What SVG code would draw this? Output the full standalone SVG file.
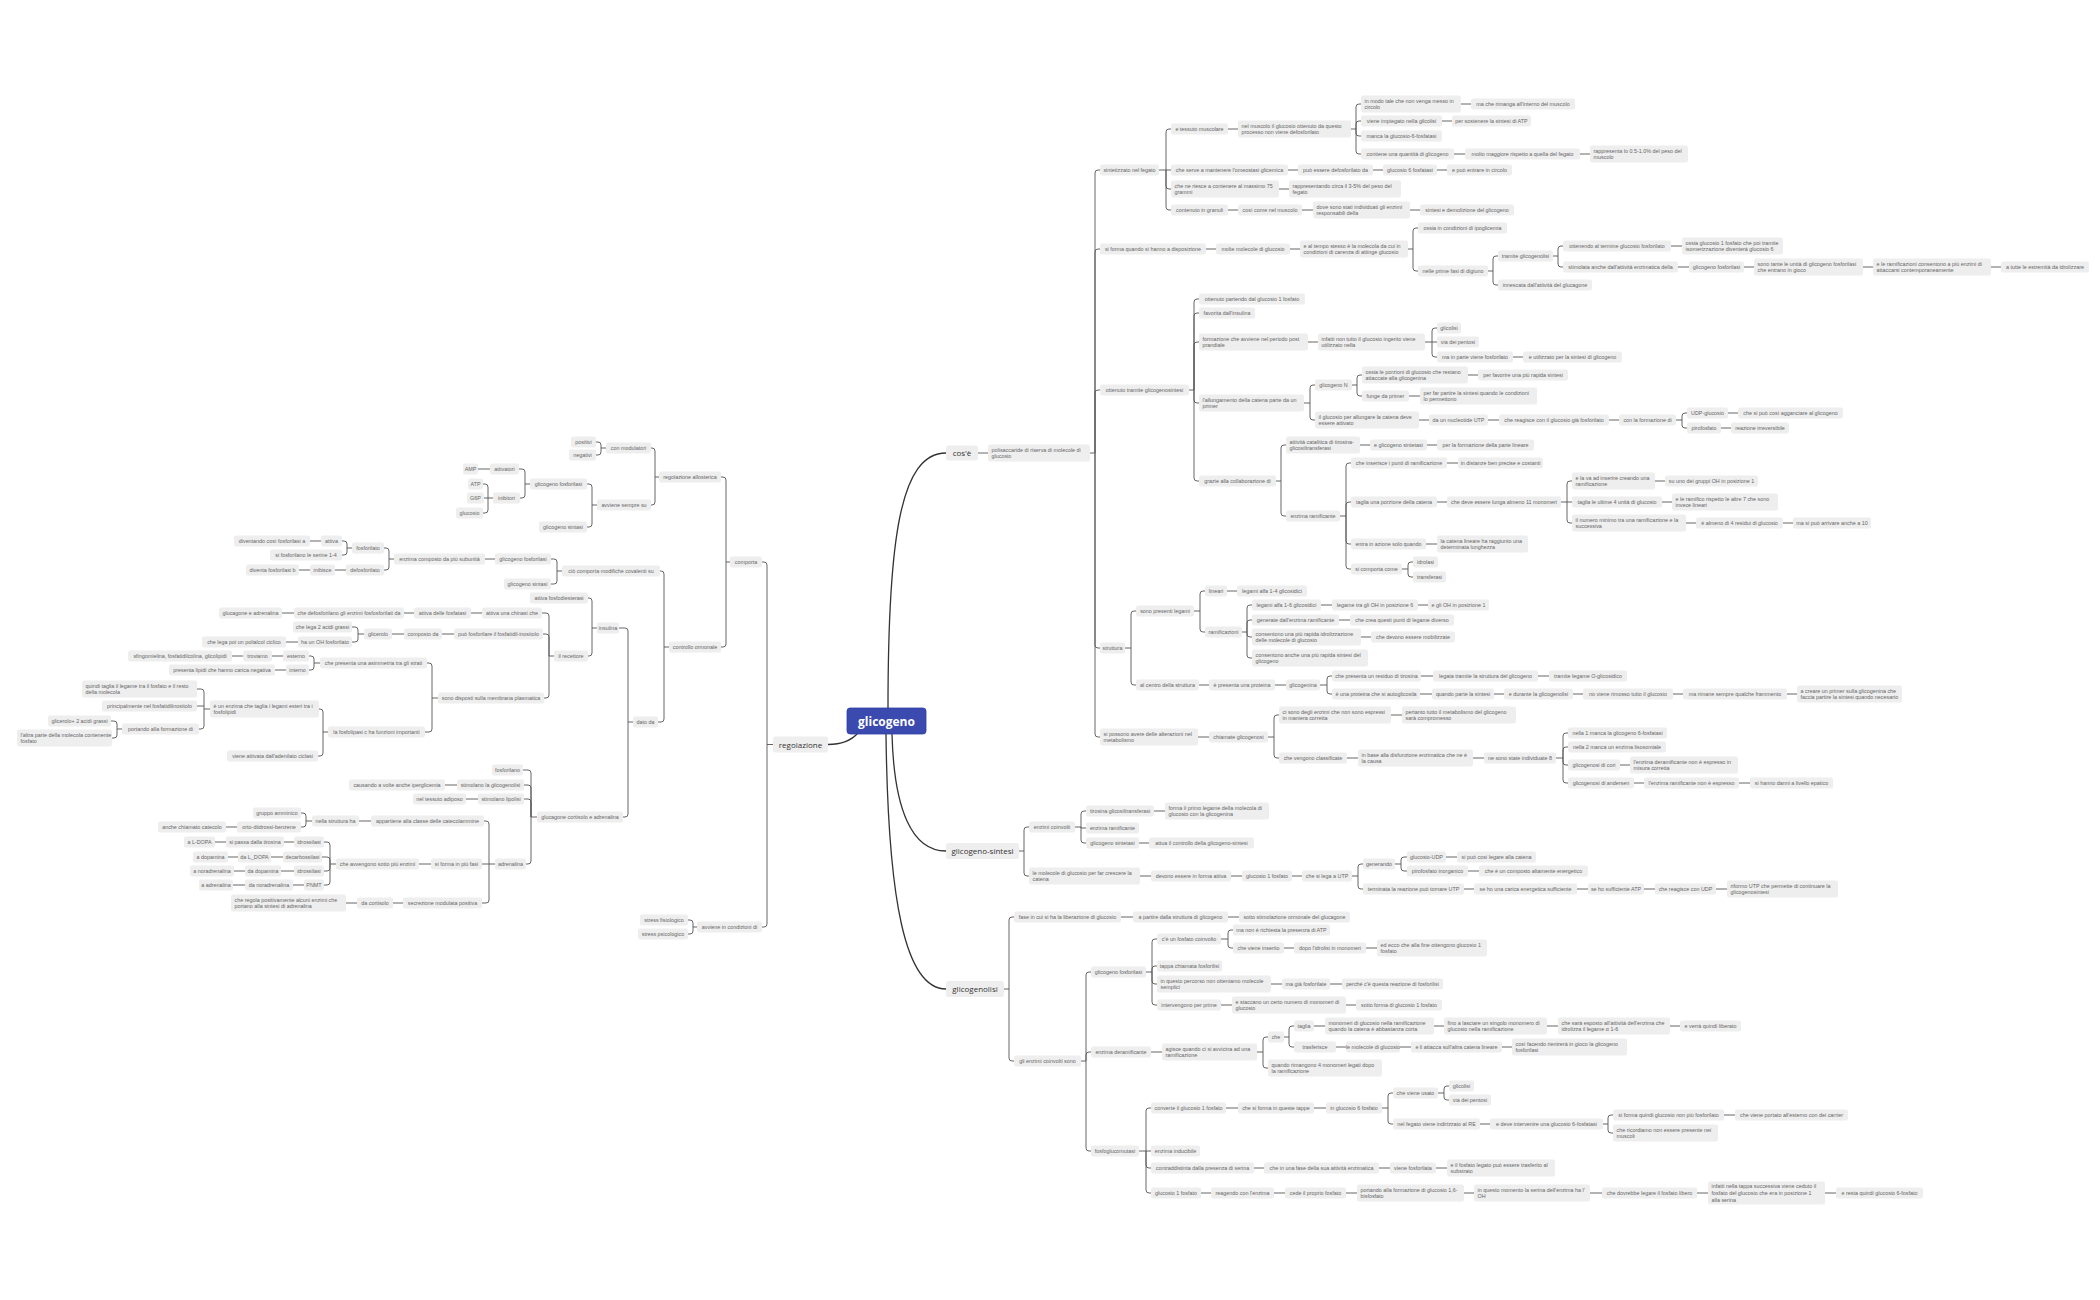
<svg xmlns="http://www.w3.org/2000/svg" width="2100" height="1300" viewBox="0 0 2100 1300">
<style>
.n rect{fill:#eeeeee;rx:2px}
.n text{font-family:"Liberation Sans",Arial,sans-serif;font-size:5.4px;fill:#666;text-anchor:middle}
.n text.l{text-anchor:start}
.m rect{fill:#eeeeee;rx:2.5px}
.m text{font-family:"Open Sans","Liberation Sans",sans-serif;font-size:8px;fill:#333;text-anchor:middle}
.c path{fill:none;stroke:#555;stroke-width:0.9}
.c path.t{stroke:#333;stroke-width:1.3}
</style>
<rect width="2100" height="1300" fill="#ffffff"/>
<g class="c" id="connectors">
<path class="t" d="M888 708C888 540 900 453 946 453"/>
<path class="t" d="M892 734C894 810 912 851 946 851"/>
<path class="t" d="M886 734C888 900 905 989 946 989"/>
<path class="t" d="M858 733C850 742 840 744.5 828 744.5"/>
<path d="M978 453H988"/>
<path d="M1090 453H1095M1095 453V173Q1095 170 1098 170H1100M1095 453V252Q1095 249 1098 249H1100M1095 453V393Q1095 390 1098 390H1100M1095 453V645Q1095 648 1098 648H1100M1095 453V734Q1095 737 1098 737H1100"/>
<path d="M1159 170H1166M1166 170V132Q1166 129 1169 129H1171M1166 170H1171M1166 170V186Q1166 189 1169 189H1171M1166 170V207Q1166 210 1169 210H1171"/>
<path d="M1228 129H1238M1351 129H1356M1356 129V107Q1356 104 1359 104H1361M1356 129V124Q1356 121 1359 121H1361M1356 129V133Q1356 136 1359 136H1361M1356 129V151Q1356 154 1359 154H1361"/>
<path d="M1461 104H1471M1442 121H1452M1454 154H1465M1580 154H1590M1288 170H1298M1373 170H1383M1437 170H1447M1279 189H1289M1228 210H1238M1302 210H1313M1410 210H1420"/>
<path d="M1206 249H1216M1290 249H1300M1408 249H1413M1413 249V231Q1413 228 1416 228H1418M1413 249V268Q1413 271 1416 271H1418"/>
<path d="M1488 271H1493M1493 271V259Q1493 256 1496 256H1498M1493 271V282Q1493 285 1496 285H1498M1553 256H1558M1558 256V249Q1558 246 1561 246H1563M1558 256V264Q1558 267 1561 267H1563"/>
<path d="M1671 246H1682M1678 267H1689M1744 267H1754M1863 267H1873M1991 267H2001"/>
<path d="M1189 390H1194M1194 390V302Q1194 299 1197 299H1199M1194 390V316Q1194 313 1197 313H1199M1194 390V345Q1194 342 1197 342H1199M1194 390V400Q1194 403 1197 403H1199M1194 390V478Q1194 481 1197 481H1199"/>
<path d="M1308 342H1318M1425 342H1432M1432 342V331Q1432 328 1435 328H1437M1432 342H1437M1432 342V354Q1432 357 1435 357H1437M1513 357H1523"/>
<path d="M1304 403H1310M1310 403V388Q1310 385 1313 385H1315M1310 403V417Q1310 420 1313 420H1315M1352 385H1357M1357 385V378Q1357 375 1360 375H1362M1357 385V393Q1357 396 1360 396H1362"/>
<path d="M1468 375H1478M1409 396H1420M1419 420H1429M1488 420H1499M1609 420H1619M1676 420H1682M1682 420V416Q1682 413 1685 413H1687M1682 420V425Q1682 428 1685 428H1687M1728 413H1738M1721 428H1731"/>
<path d="M1276 481H1281M1281 481V448Q1281 445 1284 445H1286M1281 481V513Q1281 516 1284 516H1286M1360 445H1370M1427 445H1437"/>
<path d="M1340 516H1346M1346 516V466Q1346 463 1349 463H1351M1346 516V505Q1346 502 1349 502H1351M1346 516V541Q1346 544 1349 544H1351M1346 516V566Q1346 569 1349 569H1351"/>
<path d="M1447 463H1458M1437 502H1447M1561 502H1567M1567 502V484Q1567 481 1570 481H1572M1567 502H1572M1567 502V520Q1567 523 1570 523H1572M1655 481H1665M1662 502H1672M1686 523H1696M1783 523H1793M1426 544H1437"/>
<path d="M1402 569H1408M1408 569V565Q1408 562 1411 562H1413M1408 569V574Q1408 577 1411 577H1413"/>
<path d="M1125 648H1131M1131 648V614Q1131 611 1134 611H1136M1131 648V682Q1131 685 1134 685H1136M1194 611H1200M1200 611V594Q1200 591 1203 591H1205M1200 611V629Q1200 632 1203 632H1205M1227 591H1237"/>
<path d="M1242 632H1247M1247 632V608Q1247 605 1250 605H1252M1247 632V623Q1247 620 1250 620H1252M1247 632V634Q1247 637 1250 637H1252M1247 632V655Q1247 658 1250 658H1252"/>
<path d="M1321 605H1332M1418 605H1428M1339 620H1350M1361 637H1371M1199 685H1209M1275 685H1286M1320 685H1327M1327 685V679Q1327 676 1330 676H1332M1327 685V691Q1327 694 1330 694H1332"/>
<path d="M1421 676H1433M1538 676H1549M1420 694H1432M1494 694H1504M1573 694H1583M1673 694H1683M1787 694H1797"/>
<path d="M1198 737H1209M1268 737H1274M1274 737V718Q1274 715 1277 715H1279M1274 737V755Q1274 758 1277 758H1279M1391 715H1402M1347 758H1358M1473 758H1484"/>
<path d="M1556 758H1563M1563 758V736Q1563 733 1566 733H1568M1563 758V750Q1563 747 1566 747H1568M1563 758V762Q1563 765 1566 765H1568M1563 758V780Q1563 783 1566 783H1568M1620 765H1630M1634 783H1644M1739 783H1750"/>
<path d="M1019 851H1024M1024 851V830Q1024 827 1027 827H1029M1024 851V873Q1024 876 1027 876H1029M1075 827H1081M1081 827V814Q1081 811 1084 811H1086M1081 827V828H1086M1081 827V840Q1081 843 1084 843H1086M1154 811H1165M1139 843H1149"/>
<path d="M1140 876H1151M1231 876H1242M1292 876H1302M1352 876H1358M1358 876V867Q1358 864 1361 864H1363M1358 876V886Q1358 889 1361 889H1363M1395 864H1401M1401 864V860Q1401 857 1404 857H1407M1401 864V868Q1401 871 1404 871H1407"/>
<path d="M1446 857H1457M1468 871H1479M1464 889H1474M1577 889H1588M1644 889H1655M1716 889H1727"/>
<path d="M1004 989H1009M1009 989V920Q1009 917 1012 917H1014M1009 989V1058Q1009 1061 1012 1061H1014M1121 917H1133M1228 917H1239"/>
<path d="M1081 1061H1086M1086 1061V975Q1086 972 1089 972H1091M1086 1061V1055Q1086 1052 1089 1052H1091M1086 1061V1148Q1086 1151 1089 1151H1091"/>
<path d="M1146 972H1152M1152 972V942Q1152 939 1155 939H1157M1152 972V969Q1152 966 1155 966H1157M1152 972V981Q1152 984 1155 984H1157M1152 972V1002Q1152 1005 1155 1005H1157"/>
<path d="M1221 939H1228M1228 939V933Q1228 930 1231 930H1233M1228 939V945Q1228 948 1231 948H1233M1284 948H1294M1366 948H1377M1271 984H1282M1330 984H1342M1221 1005H1232M1346 1005H1356M1151 1052H1162"/>
<path d="M1257 1052H1263M1263 1052V1040Q1263 1037 1266 1037H1268M1263 1052V1065Q1263 1068 1266 1068H1268M1284 1037H1289M1289 1037V1029Q1289 1026 1292 1026H1294M1289 1037V1044Q1289 1047 1292 1047H1294"/>
<path d="M1314 1026H1325M1434 1026H1444M1547 1026H1558M1670 1026H1680M1336 1047H1346M1400 1047H1411M1502 1047H1512"/>
<path d="M1139 1151H1146M1146 1151V1111Q1146 1108 1149 1108H1151M1146 1151H1151M1146 1151V1165Q1146 1168 1149 1168H1151M1146 1151V1190Q1146 1193 1149 1193H1151"/>
<path d="M1226 1108H1238M1314 1108H1326M1382 1108H1388M1388 1108V1096Q1388 1093 1391 1093H1393M1388 1108V1121Q1388 1124 1391 1124H1393M1438 1093H1444M1444 1093V1089Q1444 1086 1447 1086H1449M1444 1093V1097Q1444 1100 1447 1100H1449"/>
<path d="M1480 1124H1490M1603 1124H1608M1608 1124V1118Q1608 1115 1611 1115H1613M1608 1124V1130Q1608 1133 1611 1133H1613M1724 1115H1735"/>
<path d="M1254 1168H1264M1379 1168H1390M1436 1168H1447M1201 1193H1211M1274 1193H1285M1346 1193H1357M1464 1193H1474M1590 1193H1602M1697 1193H1708M1825 1193H1836"/>
<path d="M773 744.5H767M767 744.5V565Q767 562 764 562H762M767 744.5V924Q767 927 764 927H762"/>
<path d="M730 562H726M726 562V480Q726 477 723 477H721M726 562V644Q726 647 723 647H721"/>
<path d="M659 477H655M655 477V451Q655 448 652 448H651M655 477V502Q655 505 652 505H651M606 448H601M601 448V445Q601 442 598 442H596M601 448V452Q601 455 598 455H596"/>
<path d="M597 505H592M592 505V487Q592 484 589 484H587M592 505V524Q592 527 589 527H587M530 484H525M525 484V472Q525 469 522 469H519M525 484V495Q525 498 522 498H520M490 469H478"/>
<path d="M493 498H484M488 498V487Q488 484 485 484H483M488 498V510Q488 513 485 513H483"/>
<path d="M669 647H664M664 647V574Q664 571 661 571H660M664 647V719Q664 722 661 722H658M562 571H557M557 571V562Q557 559 554 559H551M557 571V581Q557 584 554 584H551M495 559H485"/>
<path d="M394 559H389M389 559V551Q389 548 386 548H384M389 559V567Q389 570 386 570H384M352 548H347M347 548V544Q347 541 344 541H342M347 548V552Q347 555 344 555H342M321 541H310M346 570H335M310 570H299"/>
<path d="M633 722H628M628 722V631Q628 628 625 628H619M628 722V814Q628 817 625 817H623M597 628H592M592 628V601Q592 598 589 598H588M592 628V653Q592 656 589 656H588"/>
<path d="M554 656H549M549 656V616Q549 613 546 613H542M549 656V637Q549 634 546 634H543M549 656V695Q549 698 546 698H544M482 613H471M414 613H404M294 613H282M454 634H442M404 634H392"/>
<path d="M364 634H358M358 634V630Q358 627 355 627H352M358 634V639Q358 642 355 642H352M298 642H286"/>
<path d="M438 698H432M432 698V666Q432 663 429 663H427M432 698V729Q432 732 429 732H425M320 663H314M314 663V659Q314 656 311 656H309M314 663V667Q314 670 311 670H309M283 656H272M243 656H232M286 670H275"/>
<path d="M328 732H323M323 732V712Q323 709 320 709H319M323 732V753Q323 756 320 756H318M210 709H204M204 709V692Q204 689 201 689H197M204 706H197M204 709V726Q204 729 201 729H199M122 729H117M117 729V724Q117 721 114 721H111M117 729V735Q117 738 114 738H112"/>
<path d="M537 817H531M531 817V773Q531 770 528 770H523M531 817V788Q531 785 528 785H524M531 817V802Q531 799 528 799H524M531 817V861Q531 864 528 864H526M457 785H445M478 799H466"/>
<path d="M495 864H489M489 864V824Q489 821 486 821H484M489 864H482M489 864V900Q489 903 486 903H482M371 821H359M312 821H306M306 821V816Q306 813 303 813H301M306 821V824Q306 827 303 827H301M237 827H226"/>
<path d="M431 864H419M336 864H330M330 864V845Q330 842 327 842H324M330 864V860Q330 857 327 857H322M330 864V868Q330 871 327 871H324M330 864V882Q330 885 327 885H324"/>
<path d="M294 842H284M226 842H215M283 857H271M238 857H228M294 871H281M245 871H234M304 885H293M245 885H233M403 903H393M357 903H346"/>
<path d="M697 927H693M693 927V923Q693 920 690 920H688M693 927V931Q693 934 690 934H688"/>
</g>
<g id="G"><rect x="847" y="708" width="79" height="26" rx="3" fill="#3a4aae" stroke="#2f40a8" stroke-width="0.8"/><text x="886.5" y="725.5" font-family="Open Sans, Liberation Sans, sans-serif" font-size="12" font-weight="bold" fill="#ffffff" text-anchor="middle">glicogeno</text></g>
<g id="A0" class="m"><rect x="946" y="445.5" width="32" height="15"/><text x="962" y="456">cos'è</text></g>
<g id="H0" class="m"><rect x="946" y="843" width="73" height="16"/><text x="982.5" y="854">glicogeno-sintesi</text></g>
<g id="K0" class="m"><rect x="946" y="981" width="58" height="16"/><text x="975" y="992">glicogenolisi</text></g>
<g id="R0" class="m"><rect x="773" y="736.5" width="55" height="16"/><text x="800.5" y="747.5">regolazione</text></g>
<g id="A1" class="n"><rect x="988" y="444.5" width="102" height="17"/><text class="l" x="991.5" y="451.6">polisaccaride di riserva di molecole di<tspan x="991.5" dy="6.6">glucosio</tspan></text></g>
<g id="B1" class="n"><rect x="1100" y="164.5" width="59" height="11"/><text x="1129.5" y="171.9">sintetizzato nel fegato</text></g>
<g id="B2" class="n"><rect x="1171" y="123.5" width="57" height="11"/><text x="1199.5" y="130.9">e tessuto muscolare</text></g>
<g id="B3" class="n"><rect x="1238" y="120.5" width="113" height="17"/><text class="l" x="1241.5" y="127.6">nel muscolo il glucosio ottenuto da questo<tspan x="1241.5" dy="6.6">processo non viene defosforilato</tspan></text></g>
<g id="B4" class="n"><rect x="1361" y="95.5" width="100" height="17"/><text class="l" x="1364.5" y="102.6">in modo tale che non venga messo in<tspan x="1364.5" dy="6.6">circolo</tspan></text></g>
<g id="B5" class="n"><rect x="1471" y="98.5" width="104" height="11"/><text x="1523" y="105.9">ma che rimanga all'interno del muscolo</text></g>
<g id="B6" class="n"><rect x="1361" y="115.5" width="81" height="11"/><text x="1401.5" y="122.9">viene impiegato nella glicolisi</text></g>
<g id="B7" class="n"><rect x="1452" y="115.5" width="79" height="11"/><text x="1491.5" y="122.9">per sostenere la sintesi di ATP</text></g>
<g id="B8" class="n"><rect x="1361" y="130.5" width="81" height="11"/><text x="1401.5" y="137.9">manca la glucosio-6-fosfatasi</text></g>
<g id="B9" class="n"><rect x="1361" y="148.5" width="93" height="11"/><text x="1407.5" y="155.9">contiene una quantità di glicogeno</text></g>
<g id="B10" class="n"><rect x="1465" y="148.5" width="115" height="11"/><text x="1522.5" y="155.9">molto maggiore rispetto a quella del fegato</text></g>
<g id="B11" class="n"><rect x="1590" y="145.5" width="98" height="17"/><text class="l" x="1593.5" y="152.6">rappresenta lo 0.5-1.0% del peso del<tspan x="1593.5" dy="6.6">muscolo</tspan></text></g>
<g id="B12" class="n"><rect x="1171" y="164.5" width="117" height="11"/><text x="1229.5" y="171.9">che serve a mantenere l'omeostasi glicemica</text></g>
<g id="B13" class="n"><rect x="1298" y="164.5" width="75" height="11"/><text x="1335.5" y="171.9">può essere defosforilato da</text></g>
<g id="B14" class="n"><rect x="1383" y="164.5" width="54" height="11"/><text x="1410" y="171.9">glucosio 6 fosfatasi</text></g>
<g id="B15" class="n"><rect x="1447" y="164.5" width="65" height="11"/><text x="1479.5" y="171.9">e può entrare in circolo</text></g>
<g id="B16" class="n"><rect x="1171" y="180.5" width="108" height="17"/><text class="l" x="1174.5" y="187.6">che ne riesce a contenere al massimo 75<tspan x="1174.5" dy="6.6">grammi</tspan></text></g>
<g id="B17" class="n"><rect x="1289" y="180.5" width="112" height="17"/><text class="l" x="1292.5" y="187.6">rappresentando circa il 3-5% del peso del<tspan x="1292.5" dy="6.6">fegato</tspan></text></g>
<g id="B18" class="n"><rect x="1171" y="204.5" width="57" height="11"/><text x="1199.5" y="211.9">contenuto in granuli</text></g>
<g id="B19" class="n"><rect x="1238" y="204.5" width="64" height="11"/><text x="1270" y="211.9">così come nel muscolo</text></g>
<g id="B20" class="n"><rect x="1313" y="201.5" width="97" height="17"/><text class="l" x="1316.5" y="208.6">dove sono stati individuati gli enzimi<tspan x="1316.5" dy="6.6">responsabili della</tspan></text></g>
<g id="B21" class="n"><rect x="1420" y="204.5" width="94" height="11"/><text x="1467" y="211.9">sintesi e demolizione del glicogeno</text></g>
<g id="C1" class="n"><rect x="1100" y="243.5" width="106" height="11"/><text x="1153" y="250.9">si forma quando si hanno a disposizione</text></g>
<g id="C2" class="n"><rect x="1216" y="243.5" width="74" height="11"/><text x="1253" y="250.9">molte molecole di glucosio</text></g>
<g id="C3" class="n"><rect x="1300" y="240.5" width="108" height="17"/><text class="l" x="1303.5" y="247.6">e al tempo stesso è la molecola da cui in<tspan x="1303.5" dy="6.6">condizioni di carenza di attinge glucosio</tspan></text></g>
<g id="C4" class="n"><rect x="1418" y="222.5" width="89" height="11"/><text x="1462.5" y="229.9">ossia in condizioni di ipoglicemia</text></g>
<g id="C5" class="n"><rect x="1418" y="265.5" width="70" height="11"/><text x="1453" y="272.9">nelle prime fasi di digiuno</text></g>
<g id="C6" class="n"><rect x="1498" y="250.5" width="55" height="11"/><text x="1525.5" y="257.9">tramite glicogenolisi</text></g>
<g id="C7" class="n"><rect x="1563" y="240.5" width="108" height="11"/><text x="1617" y="247.9">ottenendo al termine glucosio fosforilato</text></g>
<g id="C8" class="n"><rect x="1682" y="237.5" width="101" height="17"/><text class="l" x="1685.5" y="244.6">ossia glucosio 1 fosfato che poi tramite<tspan x="1685.5" dy="6.6">isomerizzazione diventerà glucosio 6</tspan></text></g>
<g id="C9" class="n"><rect x="1563" y="261.5" width="115" height="11"/><text x="1620.5" y="268.9">stimolata anche dall'attività enzimatica della</text></g>
<g id="C10" class="n"><rect x="1689" y="261.5" width="55" height="11"/><text x="1716.5" y="268.9">glicogeno fosforilasi</text></g>
<g id="C11" class="n"><rect x="1754" y="258.5" width="109" height="17"/><text class="l" x="1757.5" y="265.6">sono tante le unità di glicogeno fosforilasi<tspan x="1757.5" dy="6.6">che entrano in gioco</tspan></text></g>
<g id="C12" class="n"><rect x="1873" y="258.5" width="118" height="17"/><text class="l" x="1876.5" y="265.6">e le ramificazioni consentono a più enzimi di<tspan x="1876.5" dy="6.6">attaccarsi contemporaneamente</tspan></text></g>
<g id="C13" class="n"><rect x="2001" y="261.5" width="88" height="11"/><text x="2045" y="268.9">a tutte le estremità da idrolizzare</text></g>
<g id="C14" class="n"><rect x="1498" y="279.5" width="94" height="11"/><text x="1545" y="286.9">innescata dall'attività del glucagone</text></g>
<g id="D1" class="n"><rect x="1100" y="384.5" width="89" height="11"/><text x="1144.5" y="391.9">ottenuto tramite glicogenosintesi</text></g>
<g id="D2" class="n"><rect x="1199" y="293.5" width="106" height="11"/><text x="1252" y="300.9">ottenuto partendo dal glucosio 1 fosfato</text></g>
<g id="D3" class="n"><rect x="1199" y="307.5" width="56" height="11"/><text x="1227" y="314.9">favorita dall'insulina</text></g>
<g id="D4" class="n"><rect x="1199" y="333.5" width="109" height="17"/><text class="l" x="1202.5" y="340.6">formazione che avviene nel periodo post<tspan x="1202.5" dy="6.6">prandiale</tspan></text></g>
<g id="D5" class="n"><rect x="1318" y="333.5" width="107" height="17"/><text class="l" x="1321.5" y="340.6">infatti non tutto il glucosio ingerito viene<tspan x="1321.5" dy="6.6">utilizzato nella</tspan></text></g>
<g id="D6" class="n"><rect x="1437" y="322.5" width="24" height="11"/><text x="1449" y="329.9">glicolisi</text></g>
<g id="D7" class="n"><rect x="1437" y="336.5" width="42" height="11"/><text x="1458" y="343.9">via dei pentosi</text></g>
<g id="D8" class="n"><rect x="1437" y="351.5" width="76" height="11"/><text x="1475" y="358.9">ma in parte viene fosforilato</text></g>
<g id="D9" class="n"><rect x="1523" y="351.5" width="99" height="11"/><text x="1572.5" y="358.9">e utilizzato per la sintesi di glicogeno</text></g>
<g id="D10" class="n"><rect x="1199" y="394.5" width="105" height="17"/><text class="l" x="1202.5" y="401.6">l'allungamento della catena parte da un<tspan x="1202.5" dy="6.6">primer</tspan></text></g>
<g id="D11" class="n"><rect x="1315" y="379.5" width="37" height="11"/><text x="1333.5" y="386.9">glicogeno N</text></g>
<g id="D12" class="n"><rect x="1362" y="366.5" width="106" height="17"/><text class="l" x="1365.5" y="373.6">ossia le porzioni di glucosio che restano<tspan x="1365.5" dy="6.6">attaccate alla glicogenina</tspan></text></g>
<g id="D13" class="n"><rect x="1478" y="369.5" width="90" height="11"/><text x="1523" y="376.9">per favorire una più rapida sintesi</text></g>
<g id="D14" class="n"><rect x="1362" y="390.5" width="47" height="11"/><text x="1385.5" y="397.9">funge da primer</text></g>
<g id="D15" class="n"><rect x="1420" y="387.5" width="117" height="17"/><text class="l" x="1423.5" y="394.6">per far partire la sintesi quando le condizioni<tspan x="1423.5" dy="6.6">lo permettono</tspan></text></g>
<g id="D16" class="n"><rect x="1315" y="411.5" width="104" height="17"/><text class="l" x="1318.5" y="418.6">il glucosio per allungare la catena deve<tspan x="1318.5" dy="6.6">essere attivato</tspan></text></g>
<g id="D17" class="n"><rect x="1429" y="414.5" width="59" height="11"/><text x="1458.5" y="421.9">da un nucleotide UTP</text></g>
<g id="D18" class="n"><rect x="1499" y="414.5" width="110" height="11"/><text x="1554" y="421.9">che reagisce con il glucosio già fosforilato</text></g>
<g id="D19" class="n"><rect x="1619" y="414.5" width="57" height="11"/><text x="1647.5" y="421.9">con la formazione di</text></g>
<g id="D20" class="n"><rect x="1687" y="407.5" width="41" height="11"/><text x="1707.5" y="414.9">UDP-glucosio</text></g>
<g id="D21" class="n"><rect x="1738" y="407.5" width="105" height="11"/><text x="1790.5" y="414.9">che si può così agganciare al glicogeno</text></g>
<g id="D22" class="n"><rect x="1687" y="422.5" width="34" height="11"/><text x="1704" y="429.9">pirofosfato</text></g>
<g id="D23" class="n"><rect x="1731" y="422.5" width="58" height="11"/><text x="1760" y="429.9">reazione irreversibile</text></g>
<g id="D24" class="n"><rect x="1199" y="475.5" width="77" height="11"/><text x="1237.5" y="482.9">grazie alla collaborazione di</text></g>
<g id="D25" class="n"><rect x="1286" y="436.5" width="74" height="17"/><text class="l" x="1289.5" y="443.6">attività catalitica di tirosina-<tspan x="1289.5" dy="6.6">glicosiltransferasi</tspan></text></g>
<g id="D26" class="n"><rect x="1370" y="439.5" width="57" height="11"/><text x="1398.5" y="446.9">e glicogeno sintetasi</text></g>
<g id="D27" class="n"><rect x="1437" y="439.5" width="97" height="11"/><text x="1485.5" y="446.9">per la formazione della parte lineare</text></g>
<g id="D28" class="n"><rect x="1286" y="510.5" width="54" height="11"/><text x="1313" y="517.9">enzima ramificante</text></g>
<g id="D29" class="n"><rect x="1351" y="457.5" width="96" height="11"/><text x="1399" y="464.9">che inserisce i punti di ramificazione</text></g>
<g id="D30" class="n"><rect x="1458" y="457.5" width="85" height="11"/><text x="1500.5" y="464.9">in distanze ben precise e costanti</text></g>
<g id="D31" class="n"><rect x="1351" y="496.5" width="86" height="11"/><text x="1394" y="503.9">taglia una porzione della catena</text></g>
<g id="D32" class="n"><rect x="1447" y="496.5" width="114" height="11"/><text x="1504" y="503.9">che deve essere lunga almeno 11 monomeri</text></g>
<g id="D33" class="n"><rect x="1572" y="472.5" width="83" height="17"/><text class="l" x="1575.5" y="479.6">e la va ad inserire creando una<tspan x="1575.5" dy="6.6">ramificazione</tspan></text></g>
<g id="D34" class="n"><rect x="1665" y="475.5" width="93" height="11"/><text x="1711.5" y="482.9">su uno dei gruppi OH in posizione 1</text></g>
<g id="D35" class="n"><rect x="1572" y="496.5" width="90" height="11"/><text x="1617" y="503.9">taglia le ultime 4 unità di glucosio</text></g>
<g id="D36" class="n"><rect x="1672" y="493.5" width="106" height="17"/><text class="l" x="1675.5" y="500.6">e le ramifico rispetto le altre 7 che sono<tspan x="1675.5" dy="6.6">invece lineari</tspan></text></g>
<g id="D37" class="n"><rect x="1572" y="514.5" width="114" height="17"/><text class="l" x="1575.5" y="521.6">il numero minimo tra una ramificazione e la<tspan x="1575.5" dy="6.6">successiva</tspan></text></g>
<g id="D38" class="n"><rect x="1696" y="517.5" width="87" height="11"/><text x="1739.5" y="524.9">è almeno di 4 residui di glucosio</text></g>
<g id="D39" class="n"><rect x="1793" y="517.5" width="78" height="11"/><text x="1832" y="524.9">ma si può arrivare anche a 10</text></g>
<g id="D40" class="n"><rect x="1351" y="538.5" width="75" height="11"/><text x="1388.5" y="545.9">entra in azione solo quando</text></g>
<g id="D41" class="n"><rect x="1437" y="535.5" width="91" height="17"/><text class="l" x="1440.5" y="542.6">la catena lineare ha raggiunto una<tspan x="1440.5" dy="6.6">determinata lunghezza</tspan></text></g>
<g id="D42" class="n"><rect x="1351" y="563.5" width="51" height="11"/><text x="1376.5" y="570.9">si comporta come</text></g>
<g id="D43" class="n"><rect x="1413" y="556.5" width="25" height="11"/><text x="1425.5" y="563.9">idrolasi</text></g>
<g id="D44" class="n"><rect x="1413" y="571.5" width="33" height="11"/><text x="1429.5" y="578.9">transferasi</text></g>
<g id="E1" class="n"><rect x="1100" y="642.5" width="25" height="11"/><text x="1112.5" y="649.9">struttura</text></g>
<g id="E2" class="n"><rect x="1136" y="605.5" width="58" height="11"/><text x="1165" y="612.9">sono presenti legami</text></g>
<g id="E3" class="n"><rect x="1205" y="585.5" width="22" height="11"/><text x="1216" y="592.9">lineari</text></g>
<g id="E4" class="n"><rect x="1237" y="585.5" width="70" height="11"/><text x="1272" y="592.9">legami alfa 1-4 glicosidici</text></g>
<g id="E5" class="n"><rect x="1205" y="626.5" width="37" height="11"/><text x="1223.5" y="633.9">ramificazioni</text></g>
<g id="E6" class="n"><rect x="1252" y="599.5" width="69" height="11"/><text x="1286.5" y="606.9">legami alfa 1-6 glicosidici</text></g>
<g id="E7" class="n"><rect x="1332" y="599.5" width="86" height="11"/><text x="1375" y="606.9">legame tra gli OH in posizione 6</text></g>
<g id="E8" class="n"><rect x="1428" y="599.5" width="61" height="11"/><text x="1458.5" y="606.9">e gli OH in posizione 1</text></g>
<g id="E9" class="n"><rect x="1252" y="614.5" width="87" height="11"/><text x="1295.5" y="621.9">generate dall'enzima ramificante</text></g>
<g id="E10" class="n"><rect x="1350" y="614.5" width="104" height="11"/><text x="1402" y="621.9">che crea questi punti di legame diverso</text></g>
<g id="E11" class="n"><rect x="1252" y="628.5" width="109" height="17"/><text class="l" x="1255.5" y="635.6">consentono una più rapida idrolizzazione<tspan x="1255.5" dy="6.6">delle molecole di glucosio</tspan></text></g>
<g id="E12" class="n"><rect x="1371" y="631.5" width="84" height="11"/><text x="1413" y="638.9">che devono essere mobilizzate</text></g>
<g id="E13" class="n"><rect x="1252" y="649.5" width="116" height="17"/><text class="l" x="1255.5" y="656.6">consentono anche una più rapida sintesi del<tspan x="1255.5" dy="6.6">glicogeno</tspan></text></g>
<g id="E14" class="n"><rect x="1136" y="679.5" width="63" height="11"/><text x="1167.5" y="686.9">al centro della struttura</text></g>
<g id="E15" class="n"><rect x="1209" y="679.5" width="66" height="11"/><text x="1242" y="686.9">è presenta una proteina</text></g>
<g id="E16" class="n"><rect x="1286" y="679.5" width="34" height="11"/><text x="1303" y="686.9">glicogenina</text></g>
<g id="E17" class="n"><rect x="1332" y="670.5" width="89" height="11"/><text x="1376.5" y="677.9">che presenta un residuo di tirosina</text></g>
<g id="E18" class="n"><rect x="1433" y="670.5" width="105" height="11"/><text x="1485.5" y="677.9">legata tramite la struttura del glicogeno</text></g>
<g id="E19" class="n"><rect x="1549" y="670.5" width="78" height="11"/><text x="1588" y="677.9">tramite legame O-glicosidico</text></g>
<g id="E20" class="n"><rect x="1332" y="688.5" width="88" height="11"/><text x="1376" y="695.9">è una proteina che si autoglicosila</text></g>
<g id="E21" class="n"><rect x="1432" y="688.5" width="62" height="11"/><text x="1463" y="695.9">quando parte la sintesi</text></g>
<g id="E22" class="n"><rect x="1504" y="688.5" width="69" height="11"/><text x="1538.5" y="695.9">e durante la glicogenolisi</text></g>
<g id="E23" class="n"><rect x="1583" y="688.5" width="90" height="11"/><text x="1628" y="695.9">no  viene rimosso tutto il glucosio</text></g>
<g id="E24" class="n"><rect x="1683" y="688.5" width="104" height="11"/><text x="1735" y="695.9">ma rimane sempre qualche frammento</text></g>
<g id="E25" class="n"><rect x="1797" y="685.5" width="105" height="17"/><text class="l" x="1800.5" y="692.6">a creare un primer sulla glicogenina che<tspan x="1800.5" dy="6.6">faccia partire la sintesi quando necesario</tspan></text></g>
<g id="F1" class="n"><rect x="1100" y="728.5" width="98" height="17"/><text class="l" x="1103.5" y="735.6">si possono avere delle alterazioni nel<tspan x="1103.5" dy="6.6">metabolismo</tspan></text></g>
<g id="F2" class="n"><rect x="1209" y="731.5" width="59" height="11"/><text x="1238.5" y="738.9">chiamate glicogenosi</text></g>
<g id="F3" class="n"><rect x="1279" y="706.5" width="112" height="17"/><text class="l" x="1282.5" y="713.6">ci sono degli enzimi che non sono espressi<tspan x="1282.5" dy="6.6">in maniera corretta</tspan></text></g>
<g id="F4" class="n"><rect x="1402" y="706.5" width="114" height="17"/><text class="l" x="1405.5" y="713.6">pertanto tutto il metabolismo del glicogeno<tspan x="1405.5" dy="6.6">sarà compromesso</tspan></text></g>
<g id="F5" class="n"><rect x="1279" y="752.5" width="68" height="11"/><text x="1313" y="759.9">che vengono classificate</text></g>
<g id="F6" class="n"><rect x="1358" y="749.5" width="115" height="17"/><text class="l" x="1361.5" y="756.6">in base alla disfunzione enzimatica che ne è<tspan x="1361.5" dy="6.6">la causa</tspan></text></g>
<g id="F7" class="n"><rect x="1484" y="752.5" width="72" height="11"/><text x="1520" y="759.9">ne sono state individuate 8</text></g>
<g id="F8" class="n"><rect x="1568" y="727.5" width="99" height="11"/><text x="1617.5" y="734.9">nella 1 manca la glicogeno 6-fosfatasi</text></g>
<g id="F9" class="n"><rect x="1568" y="741.5" width="98" height="11"/><text x="1617" y="748.9">nella 2 manca un enzima lisosomiale</text></g>
<g id="F10" class="n"><rect x="1568" y="759.5" width="52" height="11"/><text x="1594" y="766.9">glicogenosi di cori</text></g>
<g id="F11" class="n"><rect x="1630" y="756.5" width="108" height="17"/><text class="l" x="1633.5" y="763.6">l'enzima deramificante non è espresso in<tspan x="1633.5" dy="6.6">misura corretta</tspan></text></g>
<g id="F12" class="n"><rect x="1568" y="777.5" width="66" height="11"/><text x="1601" y="784.9">glicogenosi di andersen</text></g>
<g id="F13" class="n"><rect x="1644" y="777.5" width="95" height="11"/><text x="1691.5" y="784.9">l'enzima ramificante non è espresso</text></g>
<g id="F14" class="n"><rect x="1750" y="777.5" width="83" height="11"/><text x="1791.5" y="784.9">si hanno danni a livello epatico</text></g>
<g id="H1" class="n"><rect x="1029" y="821.5" width="46" height="11"/><text x="1052" y="828.9">enzimi coinvolti</text></g>
<g id="H2" class="n"><rect x="1086" y="805.5" width="68" height="11"/><text x="1120" y="812.9">tirosina glicosiltransferasi</text></g>
<g id="H3" class="n"><rect x="1165" y="802.5" width="104" height="17"/><text class="l" x="1168.5" y="809.6">forma il primo legame della molecola di<tspan x="1168.5" dy="6.6">glucosio con la glicogenina</tspan></text></g>
<g id="H4" class="n"><rect x="1086" y="822.5" width="53" height="11"/><text x="1112.5" y="829.9">enzima ramificante</text></g>
<g id="H5" class="n"><rect x="1086" y="837.5" width="53" height="11"/><text x="1112.5" y="844.9">glicogeno sintetasi</text></g>
<g id="H6" class="n"><rect x="1149" y="837.5" width="105" height="11"/><text x="1201.5" y="844.9">attua il controllo della glicogeno-sintesi</text></g>
<g id="H7" class="n"><rect x="1029" y="867.5" width="111" height="17"/><text class="l" x="1032.5" y="874.6">le molecole di glucosio per far crescere la<tspan x="1032.5" dy="6.6">catena</tspan></text></g>
<g id="H8" class="n"><rect x="1151" y="870.5" width="80" height="11"/><text x="1191" y="877.9">devono essere in forma attiva</text></g>
<g id="H9" class="n"><rect x="1242" y="870.5" width="50" height="11"/><text x="1267" y="877.9">glucosio 1 fosfato</text></g>
<g id="H10" class="n"><rect x="1302" y="870.5" width="50" height="11"/><text x="1327" y="877.9">che si lega a UTP</text></g>
<g id="H11" class="n"><rect x="1363" y="858.5" width="32" height="11"/><text x="1379" y="865.9">generando</text></g>
<g id="H12" class="n"><rect x="1407" y="851.5" width="39" height="11"/><text x="1426.5" y="858.9">glucosio-UDP</text></g>
<g id="H13" class="n"><rect x="1457" y="851.5" width="79" height="11"/><text x="1496.5" y="858.9">si può così legare alla catena</text></g>
<g id="H14" class="n"><rect x="1407" y="865.5" width="61" height="11"/><text x="1437.5" y="872.9">pirofosfato inorganico</text></g>
<g id="H15" class="n"><rect x="1479" y="865.5" width="109" height="11"/><text x="1533.5" y="872.9">che è un composto altamente energetico</text></g>
<g id="H16" class="n"><rect x="1363" y="883.5" width="101" height="11"/><text x="1413.5" y="890.9">terminata la reazione può tornare UTP</text></g>
<g id="H17" class="n"><rect x="1474" y="883.5" width="103" height="11"/><text x="1525.5" y="890.9">se ho una carica energetica sufficiente</text></g>
<g id="H18" class="n"><rect x="1588" y="883.5" width="56" height="11"/><text x="1616" y="890.9">se ho sufficiente ATP</text></g>
<g id="H19" class="n"><rect x="1655" y="883.5" width="61" height="11"/><text x="1685.5" y="890.9">che reagisce con UDP</text></g>
<g id="H20" class="n"><rect x="1727" y="880.5" width="111" height="17"/><text class="l" x="1730.5" y="887.6">riformo UTP che permette di continuare la<tspan x="1730.5" dy="6.6">glicogenosintesi</tspan></text></g>
<g id="K1" class="n"><rect x="1014" y="911.5" width="107" height="11"/><text x="1067.5" y="918.9">fase in cui si ha la liberazione di glucosio</text></g>
<g id="K2" class="n"><rect x="1133" y="911.5" width="95" height="11"/><text x="1180.5" y="918.9">a partire dalla struttura di glicogeno</text></g>
<g id="K3" class="n"><rect x="1239" y="911.5" width="111" height="11"/><text x="1294.5" y="918.9">sotto stimolazione ormonale del glucagone</text></g>
<g id="K4" class="n"><rect x="1014" y="1055.5" width="67" height="11"/><text x="1047.5" y="1062.9">gli enzimi coinvolti sono</text></g>
<g id="K5" class="n"><rect x="1091" y="966.5" width="55" height="11"/><text x="1118.5" y="973.9">glicogeno fosforilasi</text></g>
<g id="K6" class="n"><rect x="1157" y="933.5" width="64" height="11"/><text x="1189" y="940.9">c'è un fosfato coinvolto</text></g>
<g id="K7" class="n"><rect x="1233" y="924.5" width="97" height="11"/><text x="1281.5" y="931.9">ma non è richiesta la presenza di ATP</text></g>
<g id="K8" class="n"><rect x="1233" y="942.5" width="51" height="11"/><text x="1258.5" y="949.9">che viene inserito</text></g>
<g id="K9" class="n"><rect x="1294" y="942.5" width="72" height="11"/><text x="1330" y="949.9">dopo l'idrolisi in monomeri</text></g>
<g id="K10" class="n"><rect x="1377" y="939.5" width="110" height="17"/><text class="l" x="1380.5" y="946.6">ed ecco che alla fine ottengono glucosio 1<tspan x="1380.5" dy="6.6">fosfato</tspan></text></g>
<g id="K11" class="n"><rect x="1157" y="960.5" width="65" height="11"/><text x="1189.5" y="967.9">tappa chiamata fosforilisi</text></g>
<g id="K12" class="n"><rect x="1157" y="975.5" width="114" height="17"/><text class="l" x="1160.5" y="982.6">in questo percorso non otteniamo molecole<tspan x="1160.5" dy="6.6">semplici</tspan></text></g>
<g id="K13" class="n"><rect x="1282" y="978.5" width="48" height="11"/><text x="1306" y="985.9">ma già fosforilate</text></g>
<g id="K14" class="n"><rect x="1342" y="978.5" width="101" height="11"/><text x="1392.5" y="985.9">perché c'è questa reazione di fosforilisi</text></g>
<g id="K15" class="n"><rect x="1157" y="999.5" width="64" height="11"/><text x="1189" y="1006.9">intervengono per prime</text></g>
<g id="K16" class="n"><rect x="1232" y="996.5" width="114" height="17"/><text class="l" x="1235.5" y="1003.6">e staccano un certo numero di monomeri di<tspan x="1235.5" dy="6.6">glucosio</tspan></text></g>
<g id="K17" class="n"><rect x="1356" y="999.5" width="86" height="11"/><text x="1399" y="1006.9">sotto forma di glucosio 1 fosfato</text></g>
<g id="K18" class="n"><rect x="1091" y="1046.5" width="60" height="11"/><text x="1121" y="1053.9">enzima deramificante</text></g>
<g id="K19" class="n"><rect x="1162" y="1043.5" width="95" height="17"/><text class="l" x="1165.5" y="1050.6">agisce quando ci si avvicina ad una<tspan x="1165.5" dy="6.6">ramificazione</tspan></text></g>
<g id="K20" class="n"><rect x="1268" y="1031.5" width="16" height="11"/><text x="1276" y="1038.9">che</text></g>
<g id="K21" class="n"><rect x="1294" y="1020.5" width="20" height="11"/><text x="1304" y="1027.9">taglia</text></g>
<g id="K22" class="n"><rect x="1325" y="1017.5" width="109" height="17"/><text class="l" x="1328.5" y="1024.6">monomeri di glucosio nella ramificazione<tspan x="1328.5" dy="6.6">quando la catena è abbastanza corta</tspan></text></g>
<g id="K23" class="n"><rect x="1444" y="1017.5" width="103" height="17"/><text class="l" x="1447.5" y="1024.6">fino a lasciare un singolo monomero di<tspan x="1447.5" dy="6.6">glucosio nella ramificazione</tspan></text></g>
<g id="K24" class="n"><rect x="1558" y="1017.5" width="112" height="17"/><text class="l" x="1561.5" y="1024.6">che sarà esposto all'attività dell'enzima che<tspan x="1561.5" dy="6.6">idrolizza il legame α 1-6</tspan></text></g>
<g id="K25" class="n"><rect x="1680" y="1020.5" width="61" height="11"/><text x="1710.5" y="1027.9">e verrà quindi liberato</text></g>
<g id="K26" class="n"><rect x="1294" y="1041.5" width="42" height="11"/><text x="1315" y="1048.9">trasferisce</text></g>
<g id="K27" class="n"><rect x="1346" y="1041.5" width="54" height="11"/><text x="1373" y="1048.9">le molecole di glucosio</text></g>
<g id="K28" class="n"><rect x="1411" y="1041.5" width="91" height="11"/><text x="1456.5" y="1048.9">e li attacca sull'altra catena lineare</text></g>
<g id="K29" class="n"><rect x="1512" y="1038.5" width="115" height="17"/><text class="l" x="1515.5" y="1045.6">così facendo rientrerà in gioco la glicogeno<tspan x="1515.5" dy="6.6">fosforilasi</tspan></text></g>
<g id="K30" class="n"><rect x="1268" y="1059.5" width="114" height="17"/><text class="l" x="1271.5" y="1066.6">quando rimangono 4 monomeri legati dopo<tspan x="1271.5" dy="6.6">la ramificazione</tspan></text></g>
<g id="K31" class="n"><rect x="1091" y="1145.5" width="48" height="11"/><text x="1115" y="1152.9">fosfoglucomutasi</text></g>
<g id="K32" class="n"><rect x="1151" y="1102.5" width="75" height="11"/><text x="1188.5" y="1109.9">converte il glucosio 1 fosfato</text></g>
<g id="K33" class="n"><rect x="1238" y="1102.5" width="76" height="11"/><text x="1276" y="1109.9">che si forma in queste tappe</text></g>
<g id="K34" class="n"><rect x="1326" y="1102.5" width="56" height="11"/><text x="1354" y="1109.9">in glucosio 6 fosfato</text></g>
<g id="K35" class="n"><rect x="1393" y="1087.5" width="45" height="11"/><text x="1415.5" y="1094.9">che viene usato</text></g>
<g id="K36" class="n"><rect x="1449" y="1080.5" width="25" height="11"/><text x="1461.5" y="1087.9">glicolisi</text></g>
<g id="K37" class="n"><rect x="1449" y="1094.5" width="42" height="11"/><text x="1470" y="1101.9">via dei pentosi</text></g>
<g id="K38" class="n"><rect x="1393" y="1118.5" width="87" height="11"/><text x="1436.5" y="1125.9">nel fegato viene indirizzato al RE</text></g>
<g id="K39" class="n"><rect x="1490" y="1118.5" width="113" height="11"/><text x="1546.5" y="1125.9">e deve intervenire una glucosio 6-fosfatasi</text></g>
<g id="K40" class="n"><rect x="1613" y="1109.5" width="111" height="11"/><text x="1668.5" y="1116.9">si forma quindi glucosio non più fosforilato</text></g>
<g id="K41" class="n"><rect x="1735" y="1109.5" width="113" height="11"/><text x="1791.5" y="1116.9">che viene portato all'esterno con dei carrier</text></g>
<g id="K42" class="n"><rect x="1613" y="1124.5" width="105" height="17"/><text class="l" x="1616.5" y="1131.6">che ricordiamo non essere presente nei<tspan x="1616.5" dy="6.6">muscoli</tspan></text></g>
<g id="K43" class="n"><rect x="1151" y="1145.5" width="49" height="11"/><text x="1175.5" y="1152.9">enzima inducibile</text></g>
<g id="K44" class="n"><rect x="1151" y="1162.5" width="103" height="11"/><text x="1202.5" y="1169.9">contraddistinta dalla presenza di serina</text></g>
<g id="K45" class="n"><rect x="1264" y="1162.5" width="115" height="11"/><text x="1321.5" y="1169.9">che in una fase della sua attività enzimatica</text></g>
<g id="K46" class="n"><rect x="1390" y="1162.5" width="46" height="11"/><text x="1413" y="1169.9">viene fosforilata</text></g>
<g id="K47" class="n"><rect x="1447" y="1159.5" width="108" height="17"/><text class="l" x="1450.5" y="1166.6">e il fosfato legato può essere trasferito al<tspan x="1450.5" dy="6.6">substrato</tspan></text></g>
<g id="K48" class="n"><rect x="1151" y="1187.5" width="50" height="11"/><text x="1176" y="1194.9">glucosio 1 fosfato</text></g>
<g id="K49" class="n"><rect x="1211" y="1187.5" width="63" height="11"/><text x="1242.5" y="1194.9">reagendo con l'enzima</text></g>
<g id="K50" class="n"><rect x="1285" y="1187.5" width="61" height="11"/><text x="1315.5" y="1194.9">cede il proprio fosfato</text></g>
<g id="K51" class="n"><rect x="1357" y="1184.5" width="107" height="17"/><text class="l" x="1360.5" y="1191.6">portando alla formazione di glucosio 1,6-<tspan x="1360.5" dy="6.6">bisfosfato</tspan></text></g>
<g id="K52" class="n"><rect x="1474" y="1184.5" width="116" height="17"/><text class="l" x="1477.5" y="1191.6">in questo momento la serina dell'enzima ha l'<tspan x="1477.5" dy="6.6">OH</tspan></text></g>
<g id="K53" class="n"><rect x="1602" y="1187.5" width="95" height="11"/><text x="1649.5" y="1194.9">che dovrebbe legare il fosfato libero</text></g>
<g id="K54" class="n"><rect x="1708" y="1181.5" width="117" height="23"/><text class="l" x="1711.5" y="1188.3">infatti nella tappa successiva viene ceduto il<tspan x="1711.5" dy="6.6">fosfato del glucosio che era in posizione 1</tspan><tspan x="1711.5" dy="6.6">alla serina</tspan></text></g>
<g id="K55" class="n"><rect x="1836" y="1187.5" width="87" height="11"/><text x="1879.5" y="1194.9">e resta quindi glucosio 6-fosfato</text></g>
<g id="R1" class="n"><rect x="730" y="556.5" width="32" height="11"/><text x="746" y="563.9">comporta</text></g>
<g id="R2" class="n"><rect x="659" y="471.5" width="62" height="11"/><text x="690" y="478.9">regolazione allosterica</text></g>
<g id="R3" class="n"><rect x="606" y="442.5" width="45" height="11"/><text x="628.5" y="449.9">con modulatori</text></g>
<g id="R4" class="n"><rect x="571" y="436.5" width="25" height="11"/><text x="583.5" y="443.9">positivi</text></g>
<g id="R5" class="n"><rect x="569" y="449.5" width="27" height="11"/><text x="582.5" y="456.9">negativi</text></g>
<g id="R6" class="n"><rect x="597" y="499.5" width="54" height="11"/><text x="624" y="506.9">avviene sempre su</text></g>
<g id="R7" class="n"><rect x="530" y="478.5" width="57" height="11"/><text x="558.5" y="485.9">glicogeno fosforilasi</text></g>
<g id="R8" class="n"><rect x="490" y="463.5" width="29" height="11"/><text x="504.5" y="470.9">attivatori</text></g>
<g id="R9" class="n"><rect x="463" y="463.5" width="15" height="11"/><text x="470.5" y="470.9">AMP</text></g>
<g id="R10" class="n"><rect x="493" y="492.5" width="27" height="11"/><text x="506.5" y="499.9">inibitori</text></g>
<g id="R11" class="n"><rect x="468" y="478.5" width="15" height="11"/><text x="475.5" y="485.9">ATP</text></g>
<g id="R12" class="n"><rect x="467" y="492.5" width="17" height="11"/><text x="475.5" y="499.9">G6P</text></g>
<g id="R13" class="n"><rect x="456" y="507.5" width="27" height="11"/><text x="469.5" y="514.9">glucosio</text></g>
<g id="R14" class="n"><rect x="539" y="521.5" width="48" height="11"/><text x="563" y="528.9">glicogeno sintasi</text></g>
<g id="R15" class="n"><rect x="669" y="641.5" width="52" height="11"/><text x="695" y="648.9">controllo ormonale</text></g>
<g id="R16" class="n"><rect x="562" y="565.5" width="98" height="11"/><text x="611" y="572.9">ciò comporta modifiche covalenti su</text></g>
<g id="R17" class="n"><rect x="495" y="553.5" width="56" height="11"/><text x="523" y="560.9">glicogeno fosforilasi</text></g>
<g id="R18" class="n"><rect x="394" y="553.5" width="91" height="11"/><text x="439.5" y="560.9">enzima composto da più subunità</text></g>
<g id="R19" class="n"><rect x="352" y="542.5" width="32" height="11"/><text x="368" y="549.9">fosforilato</text></g>
<g id="R20" class="n"><rect x="321" y="535.5" width="21" height="11"/><text x="331.5" y="542.9">attiva</text></g>
<g id="R21" class="n"><rect x="234" y="535.5" width="76" height="11"/><text x="272" y="542.9">diventando così fosforilasi a</text></g>
<g id="R22" class="n"><rect x="270" y="549.5" width="72" height="11"/><text x="306" y="556.9">si fosforilano le serine 1-4</text></g>
<g id="R23" class="n"><rect x="346" y="564.5" width="38" height="11"/><text x="365" y="571.9">defosforilato</text></g>
<g id="R24" class="n"><rect x="310" y="564.5" width="25" height="11"/><text x="322.5" y="571.9">inibisce</text></g>
<g id="R25" class="n"><rect x="246" y="564.5" width="53" height="11"/><text x="272.5" y="571.9">diventa fosforilasi b</text></g>
<g id="R26" class="n"><rect x="504" y="578.5" width="47" height="11"/><text x="527.5" y="585.9">glicogeno sintasi</text></g>
<g id="R27" class="n"><rect x="633" y="716.5" width="25" height="11"/><text x="645.5" y="723.9">dato da</text></g>
<g id="R28" class="n"><rect x="597" y="622.5" width="22" height="11"/><text x="608" y="629.9">insulina</text></g>
<g id="R29" class="n"><rect x="530" y="592.5" width="58" height="11"/><text x="559" y="599.9">attiva fosfodiesterasi</text></g>
<g id="R30" class="n"><rect x="554" y="650.5" width="34" height="11"/><text x="571" y="657.9">il recettore</text></g>
<g id="R31" class="n"><rect x="482" y="607.5" width="60" height="11"/><text x="512" y="614.9">attiva una chinasi che</text></g>
<g id="R32" class="n"><rect x="414" y="607.5" width="57" height="11"/><text x="442.5" y="614.9">attiva delle fosfatasi</text></g>
<g id="R33" class="n"><rect x="294" y="607.5" width="110" height="11"/><text x="349" y="614.9">che defosforilano gli enzimi fosfosforilati da</text></g>
<g id="R34" class="n"><rect x="219" y="607.5" width="63" height="11"/><text x="250.5" y="614.9">glucagone e adrenalina</text></g>
<g id="R35" class="n"><rect x="454" y="628.5" width="89" height="11"/><text x="498.5" y="635.9">può fosforilare il fosfatidil-inositolo</text></g>
<g id="R36" class="n"><rect x="404" y="628.5" width="38" height="11"/><text x="423" y="635.9">composto da</text></g>
<g id="R37" class="n"><rect x="364" y="628.5" width="28" height="11"/><text x="378" y="635.9">glicerolo</text></g>
<g id="R38" class="n"><rect x="293" y="621.5" width="59" height="11"/><text x="322.5" y="628.9">che lega 2 acidi grassi</text></g>
<g id="R39" class="n"><rect x="298" y="636.5" width="54" height="11"/><text x="325" y="643.9">ha un OH fosforilato</text></g>
<g id="R40" class="n"><rect x="202" y="636.5" width="84" height="11"/><text x="244" y="643.9">che lega poi un polialcol ciclico</text></g>
<g id="R41" class="n"><rect x="438" y="692.5" width="106" height="11"/><text x="491" y="699.9">sono disposti sulla membrana plasmatica</text></g>
<g id="R42" class="n"><rect x="320" y="657.5" width="107" height="11"/><text x="373.5" y="664.9">che presenta una asimmetria tra gli strati</text></g>
<g id="R43" class="n"><rect x="283" y="650.5" width="26" height="11"/><text x="296" y="657.9">esterno</text></g>
<g id="R44" class="n"><rect x="243" y="650.5" width="29" height="11"/><text x="257.5" y="657.9">troviamo</text></g>
<g id="R45" class="n"><rect x="128" y="650.5" width="104" height="11"/><text x="180" y="657.9">sfingomielina, fosfatidilcolina, glicolipidi</text></g>
<g id="R46" class="n"><rect x="286" y="664.5" width="23" height="11"/><text x="297.5" y="671.9">interno</text></g>
<g id="R47" class="n"><rect x="169" y="664.5" width="106" height="11"/><text x="222" y="671.9">presenta lipidi che hanno carica negativa</text></g>
<g id="R48" class="n"><rect x="328" y="726.5" width="97" height="11"/><text x="376.5" y="733.9">la fosfolipasi c ha funzioni importanti</text></g>
<g id="R49" class="n"><rect x="210" y="700.5" width="109" height="17"/><text class="l" x="213.5" y="707.6">è un enzima che taglia i legami esteri tra i<tspan x="213.5" dy="6.6">fosfolipidi</tspan></text></g>
<g id="R50" class="n"><rect x="82" y="680.5" width="115" height="17"/><text class="l" x="85.5" y="687.6">quindi taglia il legame tra il fosfato e il resto<tspan x="85.5" dy="6.6">della molecola</tspan></text></g>
<g id="R51" class="n"><rect x="102" y="700.5" width="95" height="11"/><text x="149.5" y="707.9">principalmente nel fosfatidilinositolo</text></g>
<g id="R52" class="n"><rect x="122" y="723.5" width="77" height="11"/><text x="160.5" y="730.9">portando alla formazione di</text></g>
<g id="R53" class="n"><rect x="48" y="715.5" width="63" height="11"/><text x="79.5" y="722.9">glicerolo+ 2 acidi grassi</text></g>
<g id="R54" class="n"><rect x="17" y="729.5" width="95" height="17"/><text class="l" x="20.5" y="736.6">l'altra parte della molecola contenente<tspan x="20.5" dy="6.6">fosfato</tspan></text></g>
<g id="R57" class="n"><rect x="227" y="750.5" width="91" height="11"/><text x="272.5" y="757.9">viene attivata dall'adenilato ciclasi</text></g>
<g id="R56" class="n"><rect x="537" y="811.5" width="86" height="11"/><text x="580" y="818.9">glucagone cortisolo e adrenalina</text></g>
<g id="R58" class="n"><rect x="492" y="764.5" width="31" height="11"/><text x="507.5" y="771.9">fosforilano</text></g>
<g id="R59" class="n"><rect x="457" y="779.5" width="67" height="11"/><text x="490.5" y="786.9">stimolano la glicogenolisi</text></g>
<g id="R60" class="n"><rect x="349" y="779.5" width="96" height="11"/><text x="397" y="786.9">causando a volte anche iperglicemia</text></g>
<g id="R61" class="n"><rect x="478" y="793.5" width="46" height="11"/><text x="501" y="800.9">stimolano lipolisi</text></g>
<g id="R62" class="n"><rect x="413" y="793.5" width="53" height="11"/><text x="439.5" y="800.9">nel tessuto adiposo</text></g>
<g id="R63" class="n"><rect x="495" y="858.5" width="31" height="11"/><text x="510.5" y="865.9">adrenalina</text></g>
<g id="R64" class="n"><rect x="371" y="815.5" width="113" height="11"/><text x="427.5" y="822.9">appartiene alla classe delle catecolammine</text></g>
<g id="R65" class="n"><rect x="312" y="815.5" width="47" height="11"/><text x="335.5" y="822.9">nella struttura ha</text></g>
<g id="R66" class="n"><rect x="253" y="807.5" width="48" height="11"/><text x="277" y="814.9">gruppo amminico</text></g>
<g id="R67" class="n"><rect x="237" y="821.5" width="64" height="11"/><text x="269" y="828.9">orto-diidrossi-benzene</text></g>
<g id="R68" class="n"><rect x="158" y="821.5" width="68" height="11"/><text x="192" y="828.9">anche chiamato catecolo</text></g>
<g id="R69" class="n"><rect x="431" y="858.5" width="51" height="11"/><text x="456.5" y="865.9">si forma in più fasi</text></g>
<g id="R70" class="n"><rect x="336" y="858.5" width="83" height="11"/><text x="377.5" y="865.9">che avvengono sotto più enzimi</text></g>
<g id="R71" class="n"><rect x="294" y="836.5" width="30" height="11"/><text x="309" y="843.9">idrossilasi</text></g>
<g id="R72" class="n"><rect x="226" y="836.5" width="58" height="11"/><text x="255" y="843.9">si passa dalla tirosina</text></g>
<g id="R73" class="n"><rect x="184" y="836.5" width="31" height="11"/><text x="199.5" y="843.9">a L-DOPA</text></g>
<g id="R74" class="n"><rect x="283" y="851.5" width="39" height="11"/><text x="302.5" y="858.9">decarbossilasi</text></g>
<g id="R75" class="n"><rect x="238" y="851.5" width="33" height="11"/><text x="254.5" y="858.9">da L_DOPA</text></g>
<g id="R76" class="n"><rect x="193" y="851.5" width="35" height="11"/><text x="210.5" y="858.9">a dopamina</text></g>
<g id="R77" class="n"><rect x="294" y="865.5" width="30" height="11"/><text x="309" y="872.9">idrossilasi</text></g>
<g id="R78" class="n"><rect x="245" y="865.5" width="36" height="11"/><text x="263" y="872.9">da dopamina</text></g>
<g id="R79" class="n"><rect x="190" y="865.5" width="44" height="11"/><text x="212" y="872.9">a noradrenalina</text></g>
<g id="R80" class="n"><rect x="304" y="879.5" width="20" height="11"/><text x="314" y="886.9">PNMT</text></g>
<g id="R81" class="n"><rect x="245" y="879.5" width="48" height="11"/><text x="269" y="886.9">da noradrenalina</text></g>
<g id="R87" class="n"><rect x="199" y="879.5" width="34" height="11"/><text x="216" y="886.9">a adrenalina</text></g>
<g id="R82" class="n"><rect x="403" y="897.5" width="79" height="11"/><text x="442.5" y="904.9">secrezione modulata positiva</text></g>
<g id="R83" class="n"><rect x="357" y="897.5" width="36" height="11"/><text x="375" y="904.9">da cortisolo</text></g>
<g id="R84" class="n"><rect x="231" y="894.5" width="115" height="17"/><text class="l" x="234.5" y="901.6">che regola positivamente alcuni enzimi che<tspan x="234.5" dy="6.6">portano alla sintesi di adrenalina</tspan></text></g>
<g id="R55" class="n"><rect x="697" y="921.5" width="65" height="11"/><text x="729.5" y="928.9">avviene in condizioni di</text></g>
<g id="R85" class="n"><rect x="640" y="914.5" width="48" height="11"/><text x="664" y="921.9">stress fisiologico</text></g>
<g id="R86" class="n"><rect x="638" y="928.5" width="50" height="11"/><text x="663" y="935.9">stress psicologico</text></g>
</svg>
